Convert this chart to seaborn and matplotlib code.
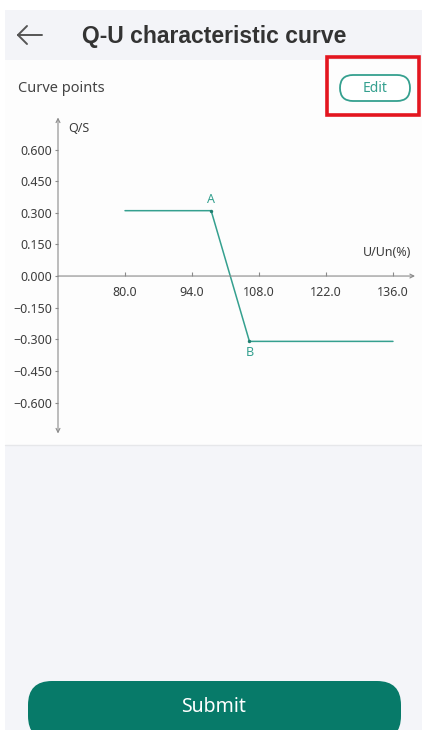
import matplotlib
matplotlib.use("Agg")
import matplotlib.pyplot as plt
import matplotlib.patches as mpatches
import matplotlib.transforms as mtransforms
from matplotlib.lines import Line2D
import seaborn as sns
import pandas as pd

# curve data (U/Un %, Q/S)
u_values = [80.0, 98.0, 106.0, 136.0]
q_values = [0.31, 0.31, -0.31, -0.31]
point_names = ["A", "B"]
point_u = [98.0, 106.0]
point_q = [0.31, -0.31]
x_ticks = [80.0, 94.0, 108.0, 122.0, 136.0]
y_ticks = [0.6, 0.45, 0.3, 0.15, 0.0, -0.15, -0.3, -0.45, -0.6]

W, H = 422, 730
TEAL = "#35a08f"
DARK_TEAL = "#077a69"
AXIS = "#8a8a8a"
TXT = "#3d3d3d"

sns.set_style("white")
plt.rcParams["font.family"] = ["Noto Sans", "DejaVu Sans"]

fig = plt.figure(figsize=(W / 100, H / 100), dpi=100)
fig.patch.set_facecolor("white")
ident = mtransforms.IdentityTransform()


def rect(x0, y0, x1, y1, z=-5, **kw):
    # pixel box, origin top-left
    p = mpatches.Rectangle((x0, H - y1), x1 - x0, y1 - y0, transform=ident, zorder=z, **kw)
    fig.add_artist(p)


def pill(x0, y0, x1, y1, r, **kw):
    p = mpatches.FancyBboxPatch((x0, H - y1), x1 - x0, y1 - y0,
                                boxstyle=f"round,pad=0,rounding_size={r}",
                                transform=ident, **kw)
    fig.add_artist(p)


def ftext(x, y, s, **kw):
    fig.text(x / W, 1 - y / H, s, **kw)


# page background
rect(5, 10, W, 60, facecolor="#f3f4f8", edgecolor="none")
rect(5, 60, W, 445, facecolor="#fdfdfd", edgecolor="none")
rect(5, 445, W, H, facecolor="#f4f5f9", edgecolor="none")
fig.add_artist(Line2D([5, W], [H - 445, H - 445], transform=ident, color="#e6e7ea", lw=1, zorder=-4))

# header
for xs, ys in [([18, 42], [35, 35]), ([18, 27], [35, 26]), ([18, 27], [35, 44])]:
    fig.add_artist(Line2D(xs, [H - v for v in ys], transform=ident, color="#555555", lw=1.4,
                          solid_capstyle="round"))
ftext(214, 37, "Q-U characteristic curve", ha="center", va="center",
      fontsize=16.5, fontweight="bold", color="#333333", family="Liberation Sans")

ftext(18, 88, "Curve points", ha="left", va="center", fontsize=10.5, color="#444444")

# edit button + red highlight
pill(340, 75, 410, 101, 13, facecolor="white", edgecolor=TEAL, lw=1.3)
ftext(375, 88, "Edit", ha="center", va="center", fontsize=10, color=TEAL)
rect(327, 57, 419, 115, z=5, facecolor="none", edgecolor="#e3161f", lw=2.6)

# chart
ax = fig.add_axes([58 / W, (H - 433.5) / H, (415 - 58) / W, (433.5 - 117.5) / H])
ax.set_zorder(2)
ax.set_facecolor("none")
ax.set_xlim(66.0, 140.6)
ax.set_ylim(-0.747, 0.752)

df = pd.DataFrame({"u": u_values, "q": q_values})
sns.lineplot(data=df, x="u", y="q", ax=ax, color=TEAL, lw=1.1, sort=False)
pts = pd.DataFrame({"u": point_u, "q": point_q, "name": point_names})
sns.scatterplot(data=pts, x="u", y="q", ax=ax, color="#1f7f70", s=6, linewidth=0, zorder=3)
for _, r in pts.iterrows():
    off = 8 if r.q > 0 else -8
    ax.annotate(r["name"], (r.u, r.q), xytext=(0, off), textcoords="offset points",
                ha="center", va="center", fontsize=9, color=TEAL)

for s in ax.spines.values():
    s.set_visible(False)
ax.spines["bottom"].set_position(("data", 0))
ax.spines["left"].set_position(("data", 66.0))

ax.annotate("", xy=(140.6, 0), xytext=(66.0, 0), xycoords="data",
            arrowprops=dict(arrowstyle="->", color=AXIS, lw=0.8, shrinkA=0, shrinkB=0,
                            mutation_scale=7))
ax.annotate("", xy=(66.0, 0.752), xytext=(66.0, -0.747), xycoords="data",
            arrowprops=dict(arrowstyle="<->", color=AXIS, lw=0.8, shrinkA=0, shrinkB=0,
                            mutation_scale=7))

ax.set_xticks(x_ticks)
ax.set_xticklabels([f"{v:.1f}" for v in x_ticks])
ax.set_yticks(y_ticks)
ax.set_yticklabels([f"{v:.3f}".replace("-", "\u2212") for v in y_ticks])
ax.tick_params(axis="x", direction="in", length=3, width=0.8, color=AXIS, pad=7,
               labelsize=9, labelcolor=TXT, bottom=True)
ax.tick_params(axis="y", direction="out", length=2, width=0.8, color=AXIS, pad=2,
               labelsize=9, labelcolor=TXT, left=True)
ax.set_xlabel("")
ax.set_ylabel("")

ftext(68, 128, "Q/S", ha="left", va="center", fontsize=9, color=TXT)
ftext(411, 253, "U/Un(%)", ha="right", va="center", fontsize=9, color=TXT)

# submit button
pill(28, 681, 401, 740, 24, facecolor=DARK_TEAL, edgecolor="none")
ftext(214, 707, "Submit", ha="center", va="center", fontsize=14, color="white")

fig.savefig("out.png", dpi=100)
